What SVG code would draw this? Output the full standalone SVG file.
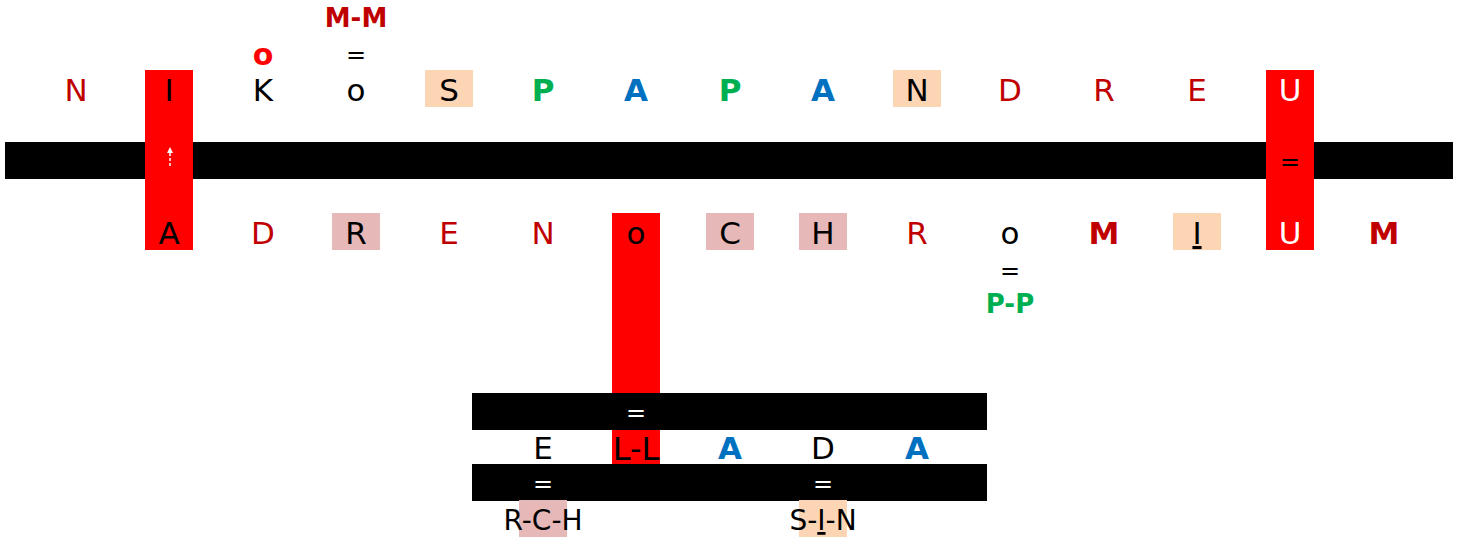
<svg xmlns="http://www.w3.org/2000/svg" width="1470" height="540" viewBox="0 0 1470 540">
<defs>
<style>
text{font-family:"DejaVu Sans","Liberation Sans",sans-serif;text-anchor:middle}
.t{font-size:31px}
.s{font-size:26px}
.n{font-size:28px}
.b{font-weight:bold}
.dr{fill:#C00000}
.gr{fill:#00B050}
.bl{fill:#0070C0}
.k{fill:#000}
.w{fill:#fff}
.eq{font-size:24px}
.band{fill:#000}
.red{fill:#FF0000}
.peach{fill:#FCD5B4}
.pink{fill:#E6B8B7}
</style>
<marker id="ah" viewBox="0 0 10 10" refX="5" refY="5" markerWidth="4" markerHeight="4" orient="auto"><path d="M0,0 L10,5 L0,10 Z" fill="#fff"/></marker>
</defs>
<rect width="1470" height="540" fill="#fff"/>
<g id="connectors">
<rect class="band" x="5" y="142" width="1448" height="37"/>
<rect class="red" x="612" y="213" width="48" height="251"/>
<rect class="band" x="472" y="393" width="515" height="37"/>
<rect class="band" x="472" y="464" width="515" height="37"/>
<rect class="red" x="145" y="70" width="48" height="180"/>
<rect class="red" x="1266" y="70" width="48" height="180"/>
<line x1="170" y1="166" x2="170" y2="150" stroke="#fff" stroke-width="1.5" stroke-dasharray="3,2" marker-end="url(#ah)"/>
<text class="eq k" x="1290" y="170">=</text>
<text class="eq w" x="636" y="421">=</text>
<text class="eq w" x="543" y="492">=</text>
<text class="eq w" x="823" y="492">=</text>
</g>
<g id="top-row">
<rect class="peach" x="425" y="70" width="48" height="37"/>
<rect class="peach" x="893" y="70" width="48" height="37"/>
<text class="t dr" x="76" y="101">N</text>
<text class="t k" x="169" y="101">I</text>
<text class="t k" x="263" y="101">K</text>
<text class="t k" x="356" y="101">o</text>
<text class="t k" x="449" y="101">S</text>
<text class="t b gr" x="543" y="101">P</text>
<text class="t b bl" x="636" y="101">A</text>
<text class="t b gr" x="730" y="101">P</text>
<text class="t b bl" x="823" y="101">A</text>
<text class="t k" x="917" y="101">N</text>
<text class="t dr" x="1010" y="101">D</text>
<text class="t dr" x="1104" y="101">R</text>
<text class="t dr" x="1197" y="101">E</text>
<text class="t w" x="1290" y="101">U</text>
</g>
<g id="top-notes">
<text class="b" x="263" y="65" style="font-size:30px;fill:#FF0000">o</text>
<text class="eq k" x="356" y="63">=</text>
<text class="s b dr" x="356" y="27">M-M</text>
</g>
<g id="bottom-row">
<rect class="pink" x="332" y="213" width="48" height="37"/>
<rect class="pink" x="706" y="213" width="48" height="37"/>
<rect class="pink" x="799" y="213" width="48" height="37"/>
<rect class="peach" x="1173" y="213" width="48" height="37"/>
<text class="t k" x="169" y="244">A</text>
<text class="t dr" x="263" y="244">D</text>
<text class="t k" x="356" y="244">R</text>
<text class="t dr" x="449" y="244">E</text>
<text class="t dr" x="543" y="244">N</text>
<text class="t k" x="636" y="244">o</text>
<text class="t k" x="730" y="244">C</text>
<text class="t k" x="823" y="244">H</text>
<text class="t dr" x="917" y="244">R</text>
<text class="t k" x="1010" y="244">o</text>
<text class="t b dr" x="1104" y="244">M</text>
<text class="t k" x="1197" y="244" text-decoration="underline">I</text>
<text class="t w" x="1290" y="244">U</text>
<text class="t b dr" x="1384" y="244">M</text>
</g>
<g id="bottom-notes">
<text class="eq k" x="1010" y="279">=</text>
<text class="s b gr" x="1010" y="313">P-P</text>
</g>
<g id="lower-row">
<rect class="red" x="612" y="430" width="48" height="34"/>
<text class="t k" x="543" y="459">E</text>
<text class="k" x="636" y="460" style="font-size:32px">L-L</text>
<text class="t b bl" x="730" y="459">A</text>
<text class="t k" x="823" y="459">D</text>
<text class="t b bl" x="917" y="459">A</text>
</g>
<g id="lower-notes">
<rect class="pink" x="519" y="500" width="48" height="37"/>
<rect class="peach" x="799" y="500" width="48" height="37"/>
<text class="n k" x="543" y="530">R-C-H</text>
<text class="n k" x="823" y="530">S-<tspan text-decoration="underline">I</tspan>-N</text>
</g>
</svg>
